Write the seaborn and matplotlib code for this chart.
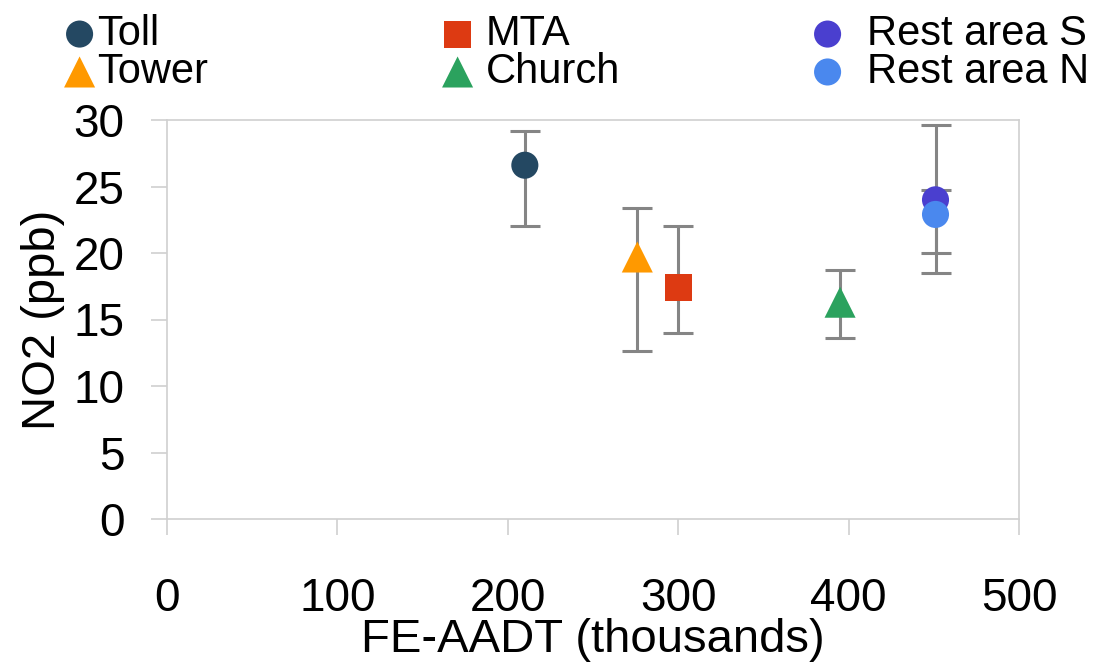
import pandas as pd
import matplotlib.pyplot as plt
import seaborn as sns

# Site data
sites = ['Toll', 'Tower', 'MTA', 'Church', 'Rest area S', 'Rest area N']
fe_aadt = [210, 276, 300, 395, 451, 451]
no2 = [26.6, 19.7, 17.4, 16.3, 24.0, 22.9]
no2_low = [22.0, 12.6, 14.0, 13.6, 20.0, 18.5]
no2_high = [29.2, 23.4, 22.0, 18.7, 29.6, 24.7]

colors = ['#244862', '#FF9900', '#DD3A12', '#2BA25E', '#4A3FCF', '#4A88EE']
markers = ['o', '^', 's', '^', 'o', 'o']
sizes = [380, 500, 380, 500, 380, 380]

df = pd.DataFrame({'site': sites, 'x': fe_aadt, 'y': no2,
                   'low': no2_low, 'high': no2_high})

sns.set_style('white')
plt.rcParams['font.family'] = ['Liberation Sans', 'DejaVu Sans']
plt.rcParams['text.color'] = 'black'
plt.rcParams['axes.labelcolor'] = 'black'

fig = plt.figure(figsize=(10.97, 6.62), dpi=100)
ax = fig.add_axes([167 / 1097, 1 - 519 / 662, (1019 - 167) / 1097, 399 / 662])

# error bars behind the markers
ax.errorbar(df['x'], df['y'], yerr=[df['y'] - df['low'], df['high'] - df['y']],
            fmt='none', ecolor='#858585', elinewidth=2.2, capsize=11, capthick=2.2, zorder=1)

for i, row in df.iterrows():
    sns.scatterplot(data=df.iloc[[i]], x='x', y='y', ax=ax, marker=markers[i],
                    s=sizes[i], color=colors[i], edgecolor='none', linewidth=0,
                    zorder=3, label=row['site'], legend=False)

ax.set_xlim(0, 500)
ax.set_ylim(0, 30)
ax.set_xticks(range(0, 501, 100))
ax.set_yticks(range(0, 31, 5))

for s in ax.spines.values():
    s.set_color('#d0d0d0')
    s.set_linewidth(1.2)
ax.tick_params(axis='both', colors='#d0d0d0', labelcolor='black', length=11.5,
               width=1.2, labelsize=33)
ax.tick_params(axis='x', direction='out', bottom=True, pad=30)
ax.tick_params(axis='y', direction='out', left=True, pad=19)

ax.set_xlabel('FE-AADT (thousands)', fontsize=34, labelpad=-2)
ax.set_ylabel('NO2 (ppb)', fontsize=34, labelpad=6)

# legend in three columns across the top
col_x = [65, 443, 813]
text_pad = [0.06, 0.32, 0.6]
groups = [[0, 1], [2, 3], [4, 5]]
pcs = [c for c in ax.collections if c.get_label() in sites]
for cx, tp, g in zip(col_x, text_pad, groups):
    fig.legend([pcs[k] for k in g], [sites[k] for k in g],
               loc='upper left', bbox_to_anchor=(cx / 1097, 1 - 14 / 662),
               frameon=False, fontsize=30, handlelength=0.7, handletextpad=tp,
               borderpad=0, borderaxespad=0, labelspacing=-0.05)

fig.savefig('out.png', dpi=100)
